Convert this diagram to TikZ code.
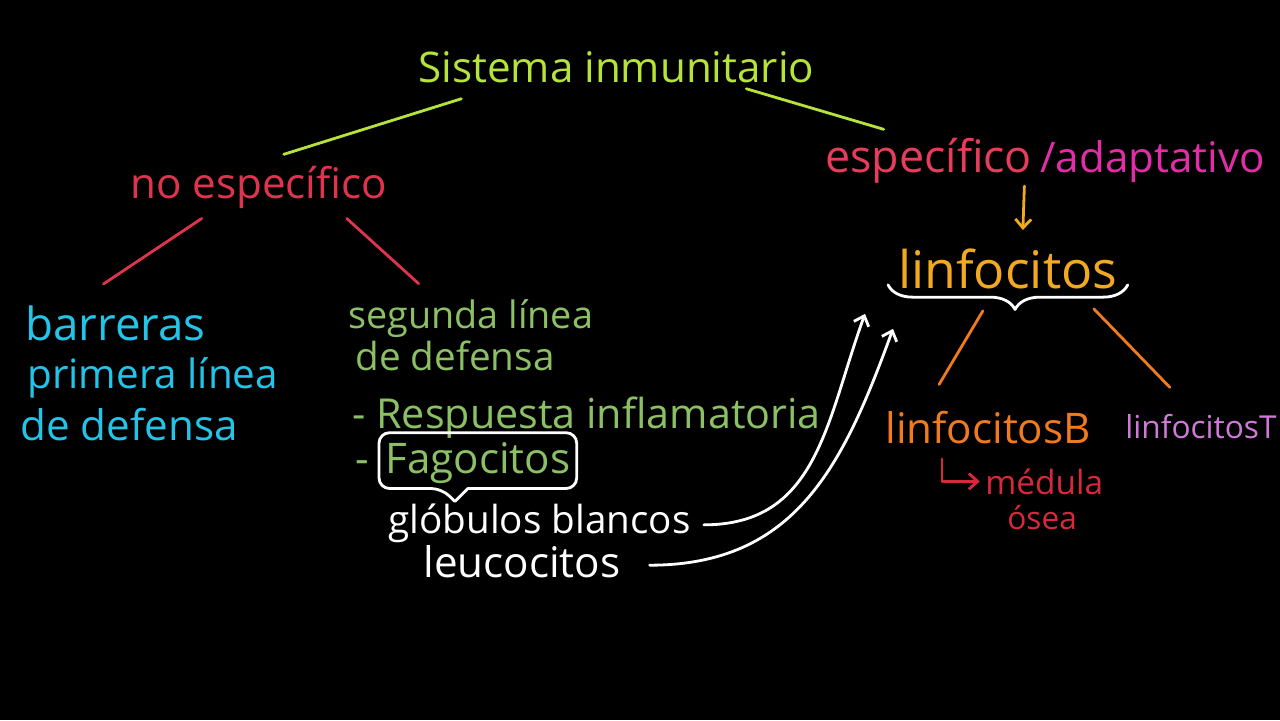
\documentclass[tikz,border=0pt]{standalone}
\usepackage{fontspec}
\setmainfont{Open Sans}
\usepackage{xcolor}
\usetikzlibrary{calc, arrows.meta, decorations.pathreplacing}

\definecolor{lima}{HTML}{B5E33A}
\definecolor{rojo}{HTML}{E0344E}
\definecolor{rosa}{HTML}{E83C5C}
\definecolor{magenta}{HTML}{E22CA8}
\definecolor{cian}{HTML}{22C4E8}
\definecolor{verde}{HTML}{8CC064}
\definecolor{dorado}{HTML}{F2A922}
\definecolor{naranja}{HTML}{F07A1E}
\definecolor{carmin}{HTML}{D8283C}
\definecolor{lila}{HTML}{D07AD8}

\begin{document}
\begin{tikzpicture}[x=0.02cm, y=-0.02cm,
    >={Straight Barb[length=5pt, width=9pt]},
    txt/.style={anchor=base west, inner sep=0pt},
    trazo/.style={line width=1.6pt, line cap=round, line join=round}]
        % Fondo
        \fill[black] (0,0) rectangle (1280,720);
        \useasboundingbox (0,0) rectangle (1280,720);

        % Titulo
        \node[txt, lima, font=\fontsize{24}{28}\selectfont] (sis) at (418,82) {Sistema inmunitario};

        % Rama no especifica
        \node[txt, rojo, font=\fontsize{24}{28}\selectfont] (noesp) at (130,198) {no específico};
        \node[txt, cian, font=\fontsize{26}{30}\selectfont] (barr) at (25,340) {barreras};
        \node[txt, cian, font=\fontsize{23}{28}\selectfont] (prim) at (27,388) {primera línea};
        \node[txt, cian, font=\fontsize{24}{28}\selectfont] (defa) at (20,440) {de defensa};
        \node[txt, verde, font=\fontsize{21.5}{26}\selectfont] (seg) at (348,328) {segunda línea};
        \node[txt, verde, font=\fontsize{22}{26}\selectfont] (defb) at (355,370) {de defensa};
        \node[txt, verde, font=\fontsize{23.5}{28}\selectfont] (resp) at (352,428) {- Respuesta inflamatoria};
        \node[txt, verde, font=\fontsize{24}{28}\selectfont] (guion) at (355,473) {-};
        \node[txt, verde, font=\fontsize{24}{28}\selectfont] (fag) at (385,473) {Fagocitos};
        \node[txt, white, font=\fontsize{22}{26}\selectfont] (glob) at (388,533) {glóbulos blancos};
        \node[txt, white, font=\fontsize{24}{28}\selectfont] (leuc) at (423,577) {leucocitos};

        % Rama especifica
        \node[txt, rosa, font=\fontsize{25.5}{30}\selectfont] (espec) at (825,172) {específico};
        \node[txt, magenta, font=\fontsize{24}{28}\selectfont] (adapt) at (1040,172) {/adaptativo};
        \node[txt, dorado, font=\fontsize{29.5}{34}\selectfont] (linf) at (898,288) {linfocitos};
        \node[txt, naranja, font=\fontsize{24}{28}\selectfont] (linfB) at (885,443) {linfocitosB};
        \node[txt, lila, font=\fontsize{18}{22}\selectfont] (linfT) at (1125,438) {linfocitosT};
        \node[txt, carmin, font=\fontsize{19}{22}\selectfont] (med) at (985,494) {médula};
        \node[txt, carmin, font=\fontsize{18}{22}\selectfont] (osea) at (1007,529) {ósea};

        % Lineas
        \draw[trazo, lima] ($(sis.south)+(-155,16)$) -- ($(noesp.north)+(25,-11)$);
        \draw[trazo, lima] ($(sis.south)+(130,6)$) -- ($(espec.north)+(-45,-8)$);
        \draw[trazo, rojo] ($(noesp.south)+(-57,10)$) -- ($(barr.north)+(-12,-21)$);
        \draw[trazo, rojo] ($(noesp.south)+(88,10)$) -- ($(seg.north)+(-52,-15)$);
        \draw[trazo, dorado, ->] ($(espec.south east)+(-8,3)$) -- ($(linf.north)+(15,-18)$);
        \draw[trazo, naranja] ($(linf.south)+(-25,22)$) -- ($(linfB.north)+(-49,-26)$);
        \draw[trazo, naranja] ($(linf.south)+(86,20)$) -- ($(linfT.north)+(-31,-26)$);
        \draw[trazo, carmin, ->, shorten >=3pt] ($(linfB.south west)+(57,15)$) |- (med.west);

        % Llave
        \draw[trazo, white, decorate, decoration={brace, mirror, amplitude=14pt, aspect=0.53}]
          ($(linf.south west)+(-10,-4)$) -- ($(linf.south east)+(10,-4)$);

        % Recuadro
        \draw[trazo, white, rounded corners=6pt] ($(fag.south)+(-10,5)$) -- ($(fag.south east)+(6,5)$)
          -- ($(fag.north east)+(6,-9)$) -- ($(fag.north west)+(-6,-9)$) -- ($(fag.south west)+(-6,5)$)
          -- ($(fag.south)+(-36,5)$) [sharp corners] -- ($(fag.south)+(-23,18)$) -- cycle;

        % Flechas
        \draw[trazo, white, ->] ($(glob.east)+(13,2)$) to[out=0, in=250, looseness=1.1] ($(linf.south west)+(-33,25)$);
        \draw[trazo, white, ->] ($(leuc.east)+(29,4)$) to[out=0, in=250, looseness=1.1] ($(linf.south west)+(-5,40)$);
\end{tikzpicture}
\end{document}
